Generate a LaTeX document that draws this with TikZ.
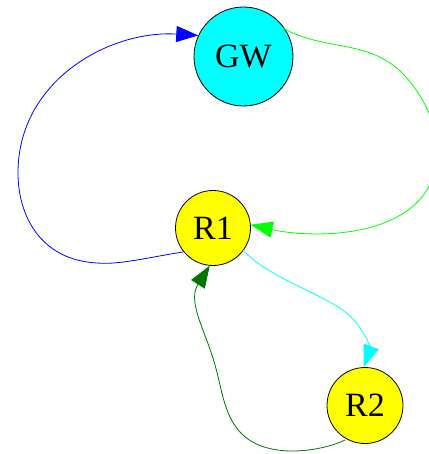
\documentclass[tikz,border=0pt]{standalone}
\usepackage{fontspec}
\setmainfont{Liberation Serif}
\usetikzlibrary{arrows.meta}
\definecolor{gvgreen}{HTML}{00FF00}
\definecolor{gvdarkgreen}{HTML}{007500}
\definecolor{gvcyan}{HTML}{00FFFF}
\definecolor{gvblue}{HTML}{0000FF}
\definecolor{gvyellow}{HTML}{FFFF00}
\begin{document}
\begin{tikzpicture}[x=1pt,y=-1pt,
  stnode/.style={circle,draw=black,line width=0.8pt,inner sep=0pt,font=\fontsize{34}{36}\selectfont},
  edge/.style={line width=0.8pt,-{Triangle[length=22pt,width=16pt]}}]
\useasboundingbox (0,0) rectangle (428,454);
\node[stnode,fill=gvcyan,minimum size=99pt] (GW) at (243.5,56.5) {GW};
\node[stnode,fill=gvyellow,minimum size=75pt] (R1) at (213,228) {R1};
\node[stnode,fill=gvyellow,minimum size=76pt] (R2) at (365,405.5) {R2};
\coordinate (b1) at (183,252);
\coordinate (g1) at (283,28);
\coordinate (c1) at (243,250);
\coordinate (d1) at (345,440);
% blue R1 -> GW
\draw[edge,gvblue] (b1) .. controls (150,257) and (120,265) .. (97,263)
  .. controls (40,260) and (18,215) .. (18,173)
  .. controls (18,80) and (110,30) .. (GW.155);
% green GW -> R1
\draw[edge,gvgreen] (g1) .. controls (325,52) and (370,38) .. (405,76)
  .. controls (445,120) and (448,178) .. (412,207)
  .. controls (372,240) and (300,236) .. (R1.5);
% cyan R1 -> R2
\draw[edge,gvcyan] (c1) .. controls (270,280) and (330,295) .. (352,318)
  .. controls (368,335) and (370,350) .. (R2.92);
% darkgreen R2 -> R1
\draw[edge,gvdarkgreen] (d1) .. controls (320,452) and (265,460) .. (240,432)
  .. controls (222,412) and (222,385) .. (212,355)
  .. controls (202,325) and (188,300) .. (R1.265);
\end{tikzpicture}
\end{document}
